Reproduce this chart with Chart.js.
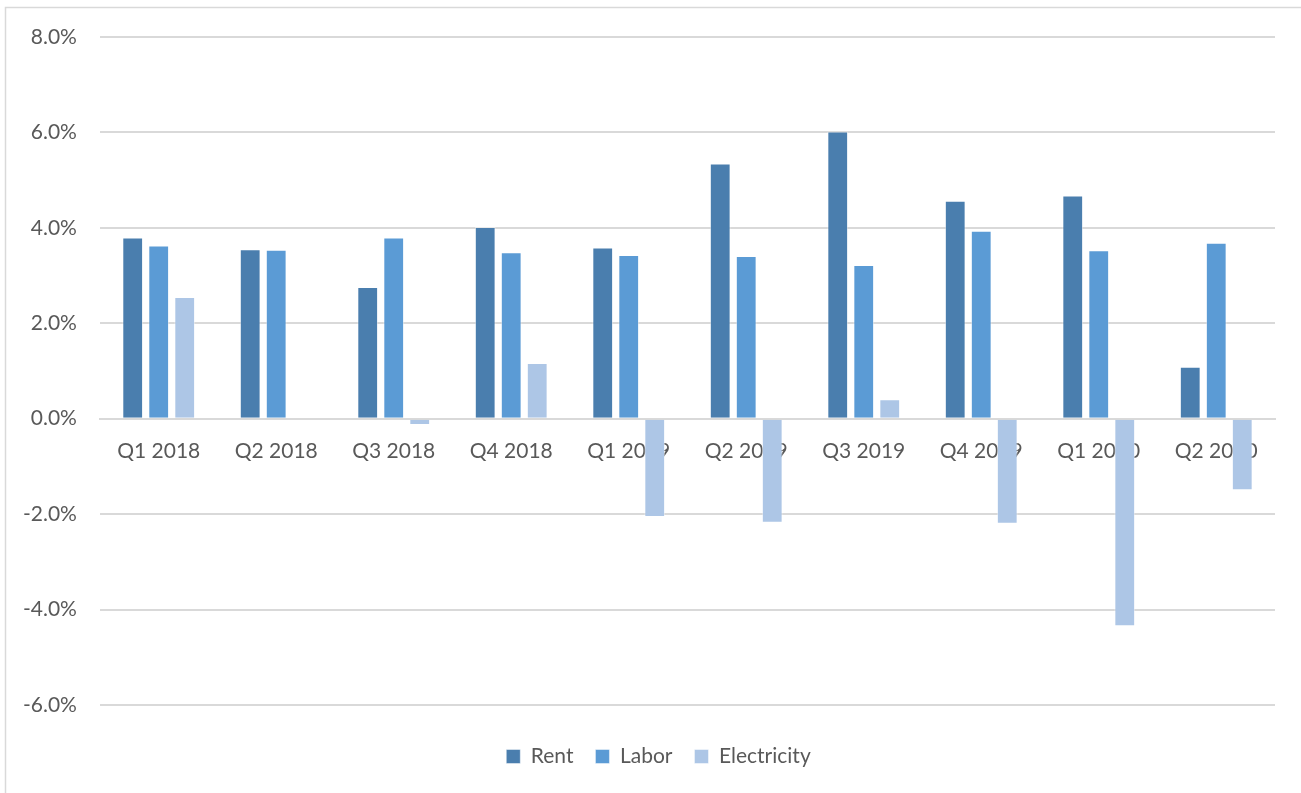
<!DOCTYPE html>
<html>
<head>
<meta charset="utf-8">
<style>
  html, body { margin: 0; padding: 0; background: #ffffff; }
  #wrap { width: 1301px; height: 793px; position: relative; }
</style>
<script src="https://cdn.jsdelivr.net/npm/chart.js@4/dist/chart.umd.min.js"></script>
</head>
<body>
<div id="wrap"><canvas id="chart" width="1301" height="793"></canvas></div>
<script>
// Quarterly year-over-year change, in percent
const quarters = ['Q1 2018', 'Q2 2018', 'Q3 2018', 'Q4 2018', 'Q1 2019',
                  'Q2 2019', 'Q3 2019', 'Q4 2019', 'Q1 2020', 'Q2 2020'];
const rent        = [3.80, 3.55, 2.76, 4.02, 3.59, 5.35, 6.02, 4.57, 4.68, 1.09];
const labor       = [3.63, 3.54, 3.80, 3.49, 3.43, 3.41, 3.22, 3.94, 3.53, 3.69];
const electricity = [2.55, 0.00, -0.13, 1.17, -2.06, -2.18, 0.41, -2.20, -4.35, -1.50];
const yTicks = [-6, -4, -2, 0, 2, 4, 6, 8];

const FONT = 'Lato, "Open Sans", sans-serif';
const TEXT = '#595959';
const GRID = '#d9d9d9';

// Light frame along the top and left edges of the chart
const framePlugin = {
  id: 'frame',
  beforeDraw(chart) {
    const ctx = chart.ctx;
    ctx.save();
    ctx.strokeStyle = GRID;
    ctx.lineWidth = 1.5;
    ctx.beginPath();
    ctx.moveTo(5.5, 800);
    ctx.lineTo(5.5, 7.5);
    ctx.lineTo(1310, 7.5);
    ctx.stroke();
    ctx.restore();
  }
};

// Nudge the legend row a little lower and to the right of its default slot
const legendShift = { dx: 21, dy: 19 };
const legendShiftPlugin = {
  id: 'legendShift',
  afterLayout(chart) {
    const lg = chart.legend;
    if (!lg) return;
    lg.left += legendShift.dx; lg.right += legendShift.dx;
    lg.top += legendShift.dy;  lg.bottom += legendShift.dy;
  }
};

const bar = (label, data, color) => ({
  label, data,
  backgroundColor: color,
  borderColor: 'rgba(255,255,255,0.45)',
  borderWidth: 1,
  categoryPercentage: 0.664,
  barPercentage: 0.8
});

new Chart(document.getElementById('chart'), {
  type: 'bar',
  data: {
    labels: quarters,
    datasets: [
      bar('Rent', rent, '#4a7eae'),
      bar('Labor', labor, '#5b9bd5'),
      bar('Electricity', electricity, '#adc6e6')
    ]
  },
  options: {
    responsive: false,
    animation: false,
    layout: { padding: { left: 0, right: 26, top: 37, bottom: 35 } },
    plugins: {
      legend: {
        position: 'bottom',
        labels: {
          font: { family: FONT, size: 21 },
          color: TEXT,
          boxWidth: 14,
          boxHeight: 14,
          padding: 22
        }
      },
      tooltip: { enabled: false }
    },
    scales: {
      x: {
        position: { y: 0 },
        grid: { display: false, drawTicks: false },
        border: { display: true, color: GRID, width: 2 },
        ticks: {
          font: { family: FONT, size: 21 },
          color: TEXT,
          padding: 20,
          maxRotation: 0,
          autoSkip: false
        }
      },
      y: {
        min: -6,
        max: 8,
        afterBuildTicks(scale) {
          scale.ticks = yTicks.map(v => ({ value: v }));
        },
        grid: { color: GRID, lineWidth: 2, drawTicks: false },
        border: { display: false },
        ticks: {
          font: { family: FONT, size: 21 },
          color: TEXT,
          padding: 23,
          callback: v => v.toFixed(1) + '%'
        }
      }
    }
  },
  plugins: [framePlugin, legendShiftPlugin]
});
</script>
</body>
</html>
